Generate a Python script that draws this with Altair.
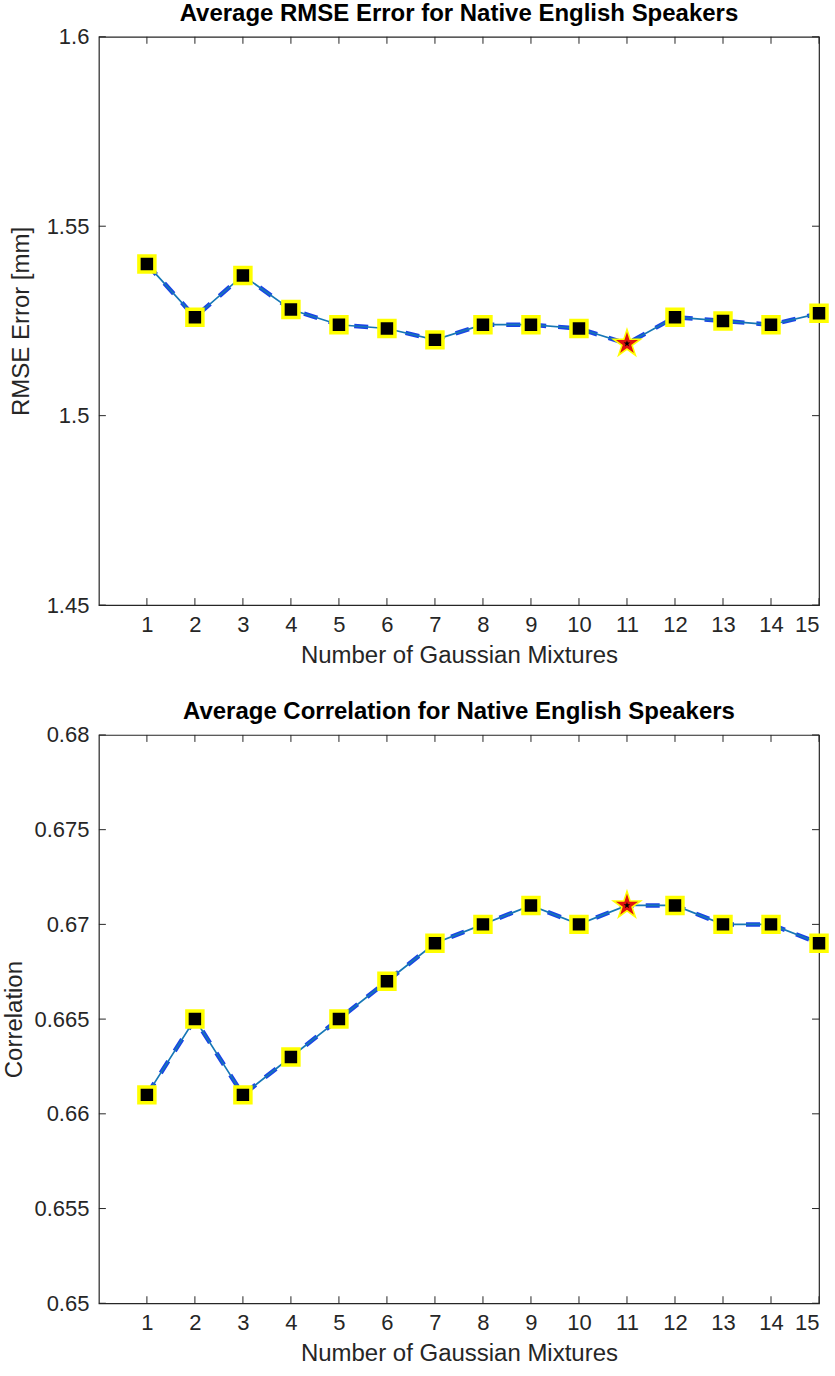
import altair as alt
import pandas as pd

# Number of Gaussian mixture components tried
mixtures = list(range(1, 16))
# Average RMSE error (mm) per mixture count
rmse = [1.540, 1.526, 1.537, 1.528, 1.524, 1.523, 1.520, 1.524,
        1.524, 1.523, 1.519, 1.526, 1.525, 1.524, 1.527]
# Average correlation per mixture count
correlation = [0.661, 0.665, 0.661, 0.663, 0.665, 0.667, 0.669, 0.670,
               0.671, 0.670, 0.671, 0.671, 0.670, 0.670, 0.669]
# Mixture count picked as the best model (highlighted with a star)
best_mixture = 11

rmse_ticks = [1.45, 1.5, 1.55, 1.6]
corr_ticks = [0.65, 0.655, 0.66, 0.665, 0.67, 0.675, 0.68]

FONT = "Liberation Sans"
INK = "#262626"
W, H = 721, 569
TICK = 7
LABEL_SIZE = 22
TITLE_SIZE = 24

STAR = ("M0,-1L0.2234,-0.3074L0.9511,-0.309L0.3614,0.1174L0.5878,0.809"
        "L0,0.38L-0.5878,0.809L-0.3614,0.1174L-0.9511,-0.309L-0.2234,-0.3074Z")


def panel(values, ticks, title, ytitle, ymin, ymax, ytitle_pad):
    df = pd.DataFrame({"k": mixtures, "v": values})
    x = alt.X("k:Q", scale=alt.Scale(domain=[0, 15], nice=False),
              axis=alt.Axis(values=mixtures, title="Number of Gaussian Mixtures",
                            ticks=False, tickSize=0, domain=False, grid=False,
                            labelPadding=9, titlePadding=8))
    y = alt.Y("v:Q", scale=alt.Scale(domain=[ymin, ymax], nice=False, zero=False),
              axis=alt.Axis(values=ticks, title=ytitle, ticks=False, tickSize=0,
                            domain=False, grid=False, labelPadding=10,
                            titlePadding=ytitle_pad, format="~g"))
    base = alt.Chart(df).encode(x=x, y=y)

    dashed = base.mark_line(color="#1a44e6", strokeWidth=4.5, strokeDash=[14, 12])
    solid = base.mark_line(color="#1677b6", strokeWidth=1.7)
    squares = base.transform_filter(alt.datum.k != best_mixture).mark_point(
        shape="square", filled=True, fill="black", stroke="#ffff00",
        strokeWidth=3.5, size=256, opacity=1)
    star_glow = base.transform_filter(alt.datum.k == best_mixture).mark_point(
        shape=STAR, filled=True, fill="#ffff00", stroke="#ffff00",
        strokeWidth=5, size=300, opacity=1)
    star = base.transform_filter(alt.datum.k == best_mixture).mark_point(
        shape=STAR, filled=True, fill="black", stroke="#e0120f",
        strokeWidth=2.5, size=230, opacity=1)

    # inward tick marks on all four sides of the box
    xt = pd.DataFrame({"k": mixtures})
    yt = pd.DataFrame({"v": ticks})
    xs = alt.X("k:Q", scale=alt.Scale(domain=[0, 15], nice=False))
    ys = alt.Y("v:Q", scale=alt.Scale(domain=[ymin, ymax], nice=False, zero=False))
    tick_style = dict(color=INK, strokeWidth=1)
    bottom_ticks = alt.Chart(xt).mark_rule(**tick_style).encode(
        x=xs, y=alt.value(H), y2=alt.value(H - TICK))
    top_ticks = alt.Chart(xt).mark_rule(**tick_style).encode(
        x=xs, y=alt.value(0), y2=alt.value(TICK))
    left_ticks = alt.Chart(yt).mark_rule(**tick_style).encode(
        y=ys, x=alt.value(0), x2=alt.value(TICK))
    right_ticks = alt.Chart(yt).mark_rule(**tick_style).encode(
        y=ys, x=alt.value(W), x2=alt.value(W - TICK))

    return alt.layer(
        bottom_ticks, top_ticks, left_ticks, right_ticks,
        dashed, solid, squares, star_glow, star,
    ).properties(
        width=W, height=H,
        title=alt.TitleParams(title, font=FONT, fontSize=TITLE_SIZE,
                              fontWeight="bold", color="black",
                              anchor="middle", offset=0),
    )


top = panel(rmse, rmse_ticks, "Average RMSE Error for Native English Speakers",
            "RMSE Error [mm]", 1.45, 1.6, 13)
bottom = panel(correlation, corr_ticks, "Average Correlation for Native English Speakers",
               "Correlation", 0.65, 0.68, 7)

chart = alt.vconcat(top, bottom, spacing=31).properties(
    padding={"left": 2, "top": 0, "right": 0, "bottom": 0},
    background="white",
).configure_view(
    stroke=INK, strokeWidth=1.2,
).configure_axis(
    labelFont=FONT, titleFont=FONT, labelFontSize=LABEL_SIZE,
    titleFontSize=TITLE_SIZE, labelColor=INK, titleColor=INK,
    titleFontWeight="normal",
)

chart.save("out.html", embed_options={"renderer": "svg", "actions": False})
